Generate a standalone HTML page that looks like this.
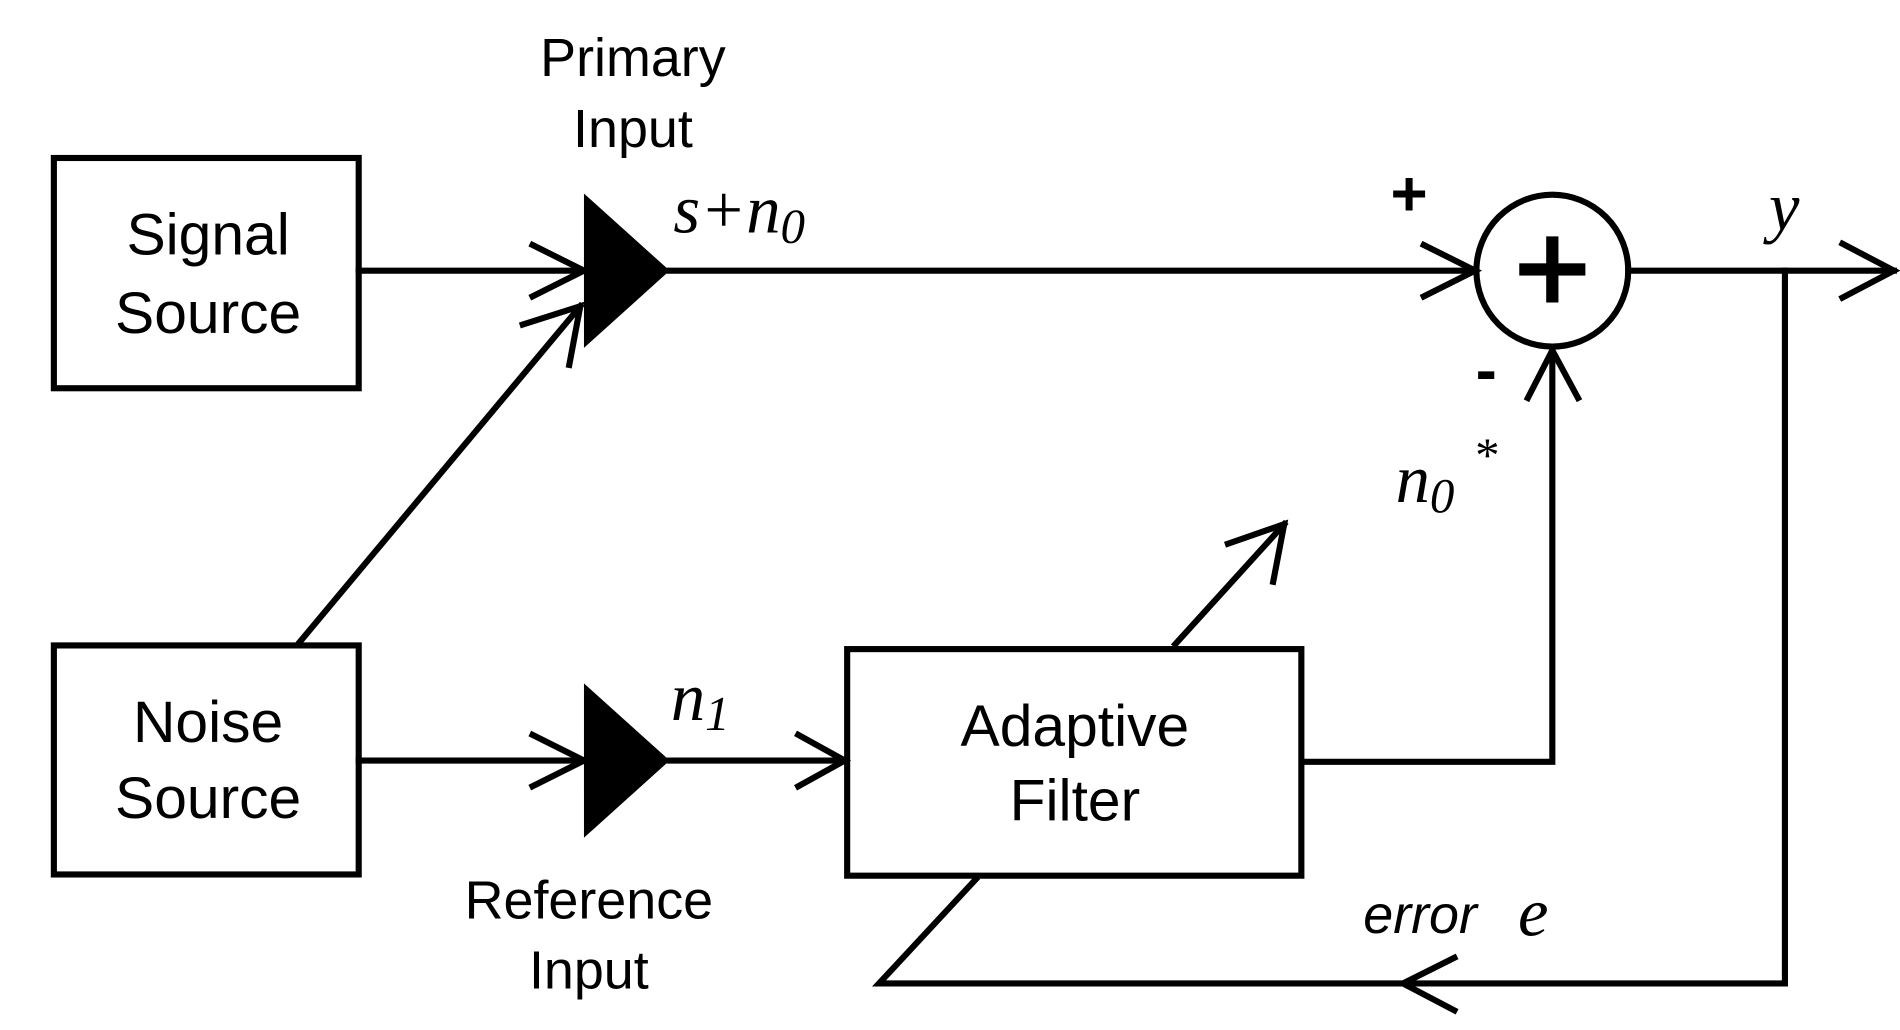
<!DOCTYPE html>
<html><head><style>html,body{margin:0;padding:0;background:#fff}svg{display:block}</style></head>
<body>
<svg width="1900" height="1030" viewBox="0 0 1552 841" preserveAspectRatio="none" xmlns="http://www.w3.org/2000/svg">
<g stroke="#000" stroke-width="5" fill="none" stroke-linecap="square">
<rect x="44" y="129" width="249" height="188"/>
<rect x="44" y="527" width="249" height="187"/>
<rect x="692" y="530" width="371" height="185"/>
<circle cx="1268" cy="221" r="62"/>
<line x1="293" y1="221" x2="477" y2="221"/>
<polyline points="435,200 477,221 435,242"/>
<line x1="245" y1="524" x2="474" y2="250"/>
<polyline points="427,265 474,250 465,298"/>
<line x1="547" y1="221" x2="1205" y2="221"/>
<polyline points="1163,200 1205,221 1163,242"/>
<line x1="1330" y1="221" x2="1547" y2="221"/>
<polyline points="1505,199 1547,221 1505,243"/>
<polyline points="1065,622 1268,622 1268,286"/>
<polyline points="1248,325 1268,286 1289,325"/>
<line x1="293" y1="621" x2="477" y2="621"/>
<polyline points="435,600 477,621 435,642"/>
<line x1="547" y1="621" x2="690" y2="621"/>
<polyline points="652,600 690,621 652,642"/>
<line x1="960" y1="526" x2="1049" y2="428"/>
<polyline points="1003,444 1049,428 1040,475"/>
<polyline points="1458,221 1458,803 718,803 797,718"/>
<polyline points="1188,782 1146,803 1188,825"/>
</g>
<g fill="#000">
<polygon points="477,158 547,221 477,284"/>
<polygon points="477,558 547,621 477,684"/>
<rect x="1263" y="193" width="10" height="54"/>
<rect x="1241" y="215" width="54" height="10"/>
</g>
<g font-family="Liberation Sans, sans-serif" font-size="48" text-anchor="middle" fill="#000">
<text x="170" y="208">Signal</text>
<text x="170" y="272">Source</text>
<text x="170" y="606">Noise</text>
<text x="170" y="668">Source</text>
<text x="878" y="609">Adaptive</text>
<text x="878" y="670">Filter</text>
<text x="517" y="62" font-size="44">Primary</text>
<text x="517" y="120" font-size="44">Input</text>
<text x="481" y="750" font-size="44">Reference</text>
<text x="481" y="807" font-size="44">Input</text>
<text x="1151" y="176" font-size="52" font-weight="bold">+</text>
<text x="1214" y="320" font-size="52" font-weight="bold">-</text>
<text x="1160" y="762" font-size="44" font-style="italic">error</text>
</g>
<g font-family="Liberation Serif, serif" font-style="italic" font-size="56" fill="#000">
<text x="550" y="190">s+n<tspan font-size="40" dy="8">0</tspan></text>
<text x="548" y="588">n<tspan font-size="40" dy="8">1</tspan></text>
<text x="1140" y="410">n<tspan font-size="40" dy="8">0</tspan></text>
<text x="1205" y="385" font-size="40" font-style="normal">*</text>
<text x="1445" y="188">y</text>
<text x="1240" y="764">e</text>
</g>
</svg>
</body></html>
